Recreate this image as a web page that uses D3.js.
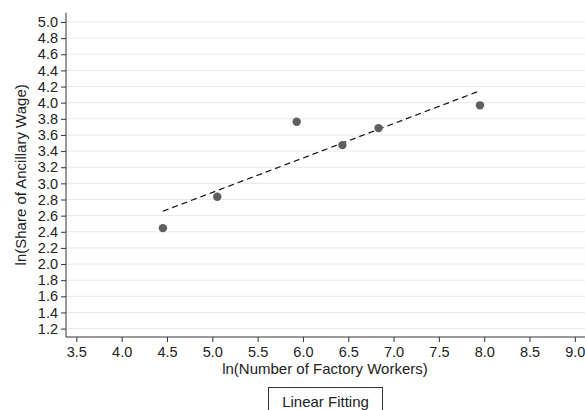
<!DOCTYPE html>
<html>
<head>
<meta charset="utf-8">
<script src="https://cdn.jsdelivr.net/npm/d3@7"></script>
<style>
  body { margin: 0; background: #fff; }
  svg { display: block; }
  svg text { font-family: "Liberation Sans", Arial, Helvetica, sans-serif; }
</style>
</head>
<body>
<svg id="chart" width="585" height="410"></svg>
<script>
// Data
const workersLn = [4.455, 5.055, 5.931, 6.436, 6.834, 7.953];
const wageShareLn = [2.445, 2.834, 3.764, 3.474, 3.685, 3.967];
const fitX = [4.455, 7.946];
const fitY = [2.655, 4.144];
const xTicks = [3.5, 4.0, 4.5, 5.0, 5.5, 6.0, 6.5, 7.0, 7.5, 8.0, 8.5, 9.0];
const yTicks = [1.2, 1.4, 1.6, 1.8, 2.0, 2.2, 2.4, 2.6, 2.8, 3.0, 3.2, 3.4, 3.6, 3.8, 4.0, 4.2, 4.4, 4.6, 4.8, 5.0];
const xTitle = "ln(Number of Factory Workers)";
const yTitle = "ln(Share of Ancillary Wage)";
const legendLabel = "Linear Fitting";

(function () {
const svg = d3.select("#chart");
const pL = 66, pR = 585, pT = 12.7, pB = 337;

const x = d3.scaleLinear().domain([3.386, 9.112]).range([pL, pR]);
const y = d3.scaleLinear().domain([1.096, 5.115]).range([pB, pT]);

// gridlines
svg.append("g").selectAll("line").data(yTicks).join("line")
  .attr("x1", pL).attr("x2", pR)
  .attr("y1", d => y(d)).attr("y2", d => y(d))
  .attr("stroke", "#e8e8e8").attr("stroke-width", 1);

// axes
const yAxis = d3.axisLeft(y).tickValues(yTicks).tickFormat(d3.format(".1f")).tickSize(5).tickPadding(3);
const xAxis = d3.axisBottom(x).tickValues(xTicks).tickFormat(d3.format(".1f")).tickSize(5).tickPadding(5);

const gy = svg.append("g").attr("transform", `translate(${pL},0)`).call(yAxis);
const gx = svg.append("g").attr("transform", `translate(0,${pB})`).call(xAxis);
[gx, gy].forEach(g => {
  g.attr("font-family", null).attr("font-size", null);
  g.select(".domain").attr("stroke", "#333");
  g.selectAll(".tick line").attr("stroke", "#333");
  g.selectAll(".tick text").attr("fill", "#222").style("font-size", "14.5px");
});
gy.select(".domain").attr("d", `M0,${pT}V${pB}`);
gx.select(".domain").attr("d", `M${pL},0H${pR}`);

// axis titles
svg.append("text").attr("x", 325).attr("y", 374)
  .attr("text-anchor", "middle").attr("fill", "#222").style("font-size", "15px").text(xTitle);
svg.append("text").attr("transform", `translate(25.5,${(pT + pB) / 2}) rotate(-90)`)
  .attr("text-anchor", "middle").attr("fill", "#222").style("font-size", "15px").text(yTitle);

// fit line
svg.append("path")
  .datum(fitX.map((v, i) => [v, fitY[i]]))
  .attr("d", d3.line().x(d => x(d[0])).y(d => y(d[1])))
  .attr("fill", "none").attr("stroke", "#111").attr("stroke-width", 1.2)
  .attr("stroke-dasharray", "6,4");

// points
svg.append("g").selectAll("circle").data(workersLn.map((v, i) => [v, wageShareLn[i]])).join("circle")
  .attr("cx", d => x(d[0])).attr("cy", d => y(d[1])).attr("r", 4.2)
  .attr("fill", "#5f5f5f");

// legend
const lg = svg.append("g");
lg.append("rect").attr("x", 268.5).attr("y", 387.5).attr("width", 114).attr("height", 30)
  .attr("fill", "#fff").attr("stroke", "#333").attr("stroke-width", 1);
lg.append("text").attr("x", 325.5).attr("y", 407).attr("text-anchor", "middle")
  .attr("fill", "#222").style("font-size", "15px").text(legendLabel);
})();
</script>
</body>
</html>
